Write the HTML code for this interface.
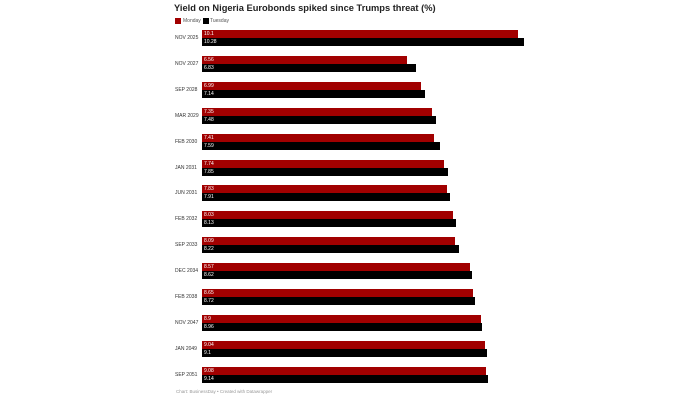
<!DOCTYPE html>
<html><head><style>
body{margin:0;width:700px;height:400px;background:#fff;font-family:"Liberation Sans",sans-serif;position:relative;overflow:hidden}
.t{position:absolute;left:174px;top:3px;font-size:9.3px;font-weight:bold;color:#222}
.lg{position:absolute;top:18px;font-size:5px;color:#555}
.sw{position:absolute;top:18px;width:6px;height:6px}
.lab{position:absolute;left:175px;font-size:5px;color:#333}
.b{position:absolute;left:202px;height:8px;color:#fff;font-size:5px;line-height:8px;padding-left:2px;box-sizing:border-box}
.r{background:#a10000}.k{background:#000}
.f{position:absolute;left:176px;top:389px;font-size:4.5px;color:#999}
</style></head><body>
<div class="t">Yield on Nigeria Eurobonds spiked since Trumps threat (%)</div>
<div class="sw r" style="left:175px"></div><div class="lg" style="left:183px">Monday</div>
<div class="sw k" style="left:203px"></div><div class="lg" style="left:210px">Tuesday</div>
<div id="c"></div>
<div class="f">Chart: BusinessDay • Created with Datawrapper</div>
<script>
var d=[["NOV 2025","10.1","10.28"],["NOV 2027","6.56","6.83"],["SEP 2028","6.99","7.14"],["MAR 2029","7.35","7.48"],["FEB 2030","7.41","7.59"],["JAN 2031","7.74","7.85"],["JUN 2031","7.83","7.91"],["FEB 2032","8.03","8.13"],["SEP 2033","8.09","8.22"],["DEC 2034","8.57","8.62"],["FEB 2038","8.65","8.72"],["NOV 2047","8.9","8.96"],["JAN 2049","9.04","9.1"],["SEP 2051","9.08","9.14"]];
var h="";d.forEach(function(r,i){var y=30+i*25.9;
h+='<div class="lab" style="top:'+(y+5)+'px">'+r[0]+'</div>';
h+='<div class="b r" style="top:'+y+'px;width:'+(parseFloat(r[1])*31.3)+'px">'+r[1]+'</div>';
h+='<div class="b k" style="top:'+(y+8)+'px;width:'+(parseFloat(r[2])*31.3)+'px">'+r[2]+'</div>';});
document.getElementById("c").innerHTML=h;
</script>
</body></html>
